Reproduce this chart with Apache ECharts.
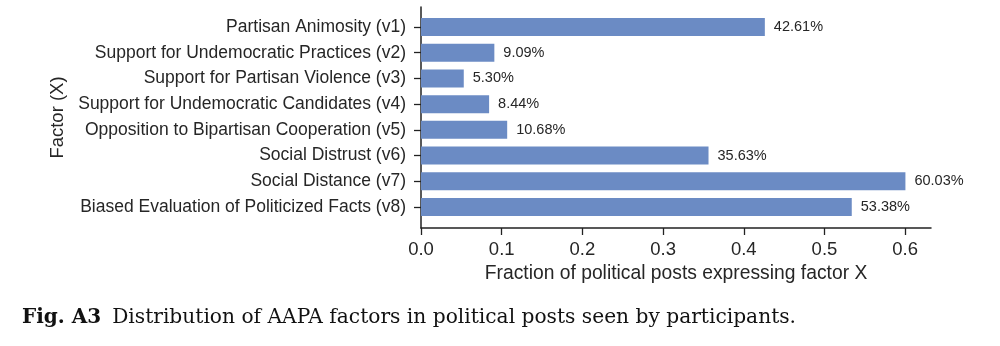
<!DOCTYPE html>
<html>
<head>
<meta charset="utf-8">
<script src="https://cdn.jsdelivr.net/npm/echarts@6/dist/echarts.min.js"></script>
<style>html,body{margin:0;padding:0;background:#fff}#c{width:1000px;height:346px}</style>
</head>
<body>
<div id="c"></div>
<script>
const categories = [
  'Partisan Animosity (v1)',
  'Support for Undemocratic Practices (v2)',
  'Support for Partisan Violence (v3)',
  'Support for Undemocratic Candidates (v4)',
  'Opposition to Bipartisan Cooperation (v5)',
  'Social Distrust (v6)',
  'Social Distance (v7)',
  'Biased Evaluation of Politicized Facts (v8)'
];
const values = [0.4261, 0.0909, 0.0530, 0.0844, 0.1068, 0.3563, 0.6003, 0.5338];
const valueLabels = ['42.61%', '9.09%', '5.30%', '8.44%', '10.68%', '35.63%', '60.03%', '53.38%'];
const xTicks = [0, 0.1, 0.2, 0.3, 0.4, 0.5, 0.6];
const xTickLabels = ['0.0', '0.1', '0.2', '0.3', '0.4', '0.5', '0.6'];
const xAxisTitle = 'Fraction of political posts expressing factor X';
const yAxisTitle = 'Factor (X)';
const captionBold = 'Fig. A3';
const captionText = 'Distribution of AAPA factors in political posts seen by participants.';

const FONT = '"Liberation Sans", Arial, sans-serif';
const SERIF = '"DejaVu Serif", "Liberation Serif", serif';
const XMAX = 0.632;
const idx = categories.map((_, i) => i);
const chart = echarts.init(document.getElementById('c'), null, {renderer: 'canvas'});
chart.setOption({
  backgroundColor: '#ffffff',
  animation: false,
  grid: [
    {left: 421, right: 69, top: 7, bottom: 118, containLabel: false},
    {left: 421, right: 69, top: 14.14, bottom: 126.14, containLabel: false}
  ],
  xAxis: [{
    gridIndex: 0, type: 'value', min: 0, max: XMAX,
    axisLine: {show: true, onZero: false, lineStyle: {color: '#222', width: 1.5}},
    axisTick: {show: true, length: 7, lineStyle: {color: '#222', width: 1.3}, customValues: xTicks},
    axisLabel: {customValues: xTicks, fontFamily: FONT, fontSize: 18.5, color: '#262626', margin: 12,
      formatter: v => xTickLabels[xTicks.findIndex(t => Math.abs(t - v) < 1e-9)] ?? ''},
    splitLine: {show: false},
    name: xAxisTitle, nameLocation: 'middle', nameGap: 30,
    nameTextStyle: {fontFamily: FONT, fontSize: 19.3, color: '#262626'}
  }, {
    gridIndex: 1, type: 'value', min: 0, max: XMAX, show: false
  }],
  yAxis: [{
    gridIndex: 0, type: 'value', inverse: true, min: -0.78, max: 7.82,
    axisLine: {show: true, onZero: false, lineStyle: {color: '#222', width: 1.5}},
    axisTick: {show: true, length: 7, lineStyle: {color: '#222', width: 1.3}, customValues: idx},
    axisLabel: {customValues: idx, fontFamily: FONT, fontSize: 17.5, color: '#262626', margin: 15,
      formatter: v => categories[Math.round(v)] ?? ''},
    splitLine: {show: false},
    name: yAxisTitle, nameLocation: 'middle', nameGap: 352, nameRotate: 90,
    nameTextStyle: {fontFamily: FONT, fontSize: 18.5, color: '#262626'}
  }, {
    gridIndex: 1, type: 'category', inverse: true, data: categories, show: false
  }],
  series: [{
    type: 'bar',
    xAxisIndex: 1, yAxisIndex: 1,
    data: values,
    barWidth: 18,
    itemStyle: {color: '#6b8bc4'},
    label: {show: true, position: 'right', distance: 9, fontFamily: FONT, fontSize: 14.5, color: '#262626',
      formatter: p => valueLabels[p.dataIndex]}
  }],
  graphic: [{
    type: 'text', left: 22, top: 308,
    style: {
      text: '{b|' + captionBold + '}{n|' + captionText + '}',
      rich: {
        b: {fontFamily: SERIF, fontWeight: 'bold', fontSize: 20, fill: '#111', padding: [0, 11, 0, 0]},
        n: {fontFamily: SERIF, fontSize: 20.2, fill: '#111'}
      }
    }
  }]
});
</script>
</body>
</html>
